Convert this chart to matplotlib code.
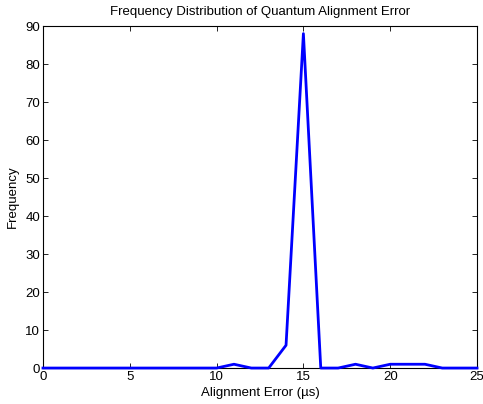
import matplotlib
matplotlib.use('Agg')
import matplotlib.pyplot as plt

# Histogram counts per integer error bin
error_us = list(range(0, 26))
frequency = [0, 0, 0, 0, 0, 0, 0, 0, 0, 0, 0, 1, 0, 0, 6, 88, 0, 0, 1, 0, 1, 1, 1, 0, 0, 0]

x_ticks = [0, 5, 10, 15, 20, 25]
y_ticks = list(range(0, 91, 10))

plt.rcParams['font.family'] = ['Liberation Sans', 'DejaVu Sans']
plt.rcParams['font.size'] = 9.5

fig = plt.figure(figsize=(4.83, 4.04), dpi=100)
ax = fig.add_axes([0.089, 0.089, 0.8986, 0.8466])

ax.plot(error_us, frequency, color='#0000ff', linewidth=2, clip_on=False, zorder=3)

ax.set_xlim(0, 25)
ax.set_ylim(0, 90)
ax.set_xticks(x_ticks)
ax.set_yticks(y_ticks)
ax.tick_params(direction='in', length=3.5, width=0.6, top=True, right=True, pad=2,
               labelsize=9.5)
for s in ax.spines.values():
    s.set_linewidth(0.8)

ax.set_title('Frequency Distribution of Quantum Alignment Error', fontsize=9.5, pad=8)
ax.set_xlabel('Alignment Error (\u00b5s)', fontsize=9.5, labelpad=3)
ax.set_ylabel('Frequency', fontsize=9.5, labelpad=5)

fig.savefig('out.png', dpi=100)
